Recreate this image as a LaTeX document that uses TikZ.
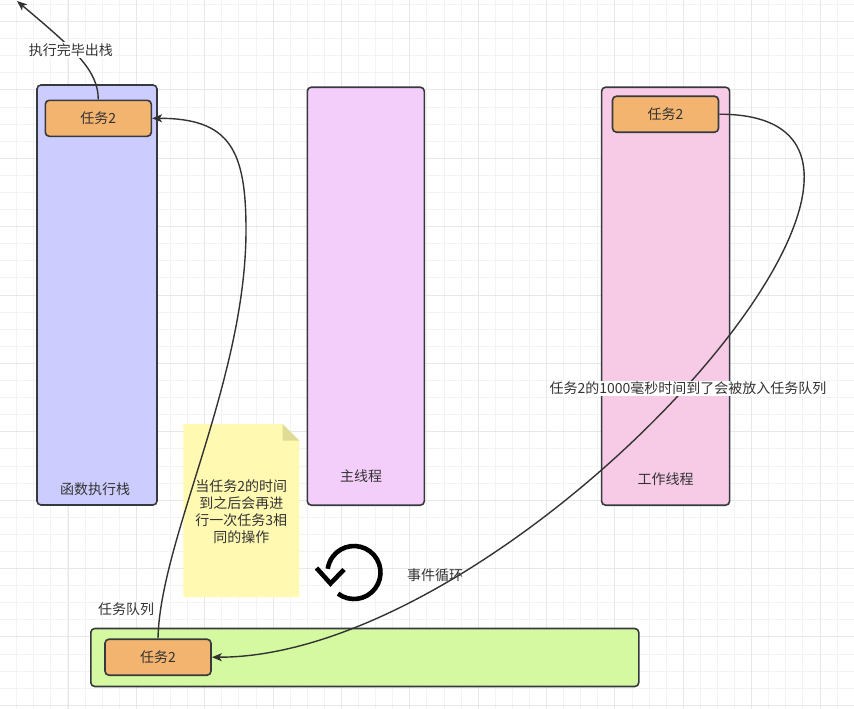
\documentclass[tikz,border=0pt]{standalone}
\usepackage{fontspec}
\setmainfont{Noto Sans CJK SC}
\usetikzlibrary{arrows.meta}
\definecolor{gridminor}{RGB}{243,243,243}
\definecolor{gridmajor}{RGB}{232,232,232}
\definecolor{bordercol}{HTML}{36393D}
\definecolor{linecol}{HTML}{333333}
\definecolor{textcol}{HTML}{333333}
\definecolor{stackfill}{HTML}{CCCCFF}
\definecolor{mainfill}{HTML}{F4CEFA}
\definecolor{workfill}{HTML}{F7CBE6}
\definecolor{taskfill}{HTML}{F3B46F}
\definecolor{queuefill}{HTML}{D5F9A0}
\definecolor{notefill}{HTML}{FFF9B2}
\definecolor{foldfill}{RGB}{222,220,150}
\tikzset{
  box/.style={draw=bordercol, line width=1.6pt, rounded corners=4pt, inner sep=0pt},
  task/.style={box, fill=taskfill, minimum width=106pt, minimum height=36pt, txt},
  txt/.style={font=\fontsize{14}{17}\selectfont, text=textcol},
  conn/.style={draw=linecol, line width=1.4pt, -{Stealth[length=10pt,width=8pt,inset=2.5pt]}},
  elabel/.style={txt, fill=white, inner sep=1pt},
}
\begin{document}
\begin{tikzpicture}[x=1pt,y=-1pt]
\useasboundingbox (0,0) rectangle (854,709);
\fill[white] (0,0) rectangle (854,709);
% grid
\foreach \k in {0,...,49} \draw[gridminor, line width=1pt] ({16.7+17.093*\k},0) -- ++(0,709);
\foreach \k in {0,...,41} \draw[gridminor, line width=1pt] (0,{4.5+17.093*\k}) -- ++(854,0);
\foreach \k in {0,...,12} \draw[gridmajor, line width=1pt] ({68.0+68.372*\k},0) -- ++(0,709);
\foreach \k in {0,...,10} \draw[gridmajor, line width=1pt] (0,{21.6+68.372*\k}) -- ++(854,0);

% columns
\node[box, fill=stackfill, minimum width=120pt, minimum height=420pt] (stack) at (97,295) {};
\node[box, fill=mainfill, minimum width=117pt, minimum height=418pt] (main) at (365.8,296.2) {};
\node[box, fill=workfill, minimum width=128pt, minimum height=418pt] (work) at (665.6,296.2) {};
\node[box, fill=queuefill, minimum width=548pt, minimum height=58pt] (queue) at (364.8,657.5) {};

\node[txt] (stacklbl) at (95,489) {函数执行栈};
\node[txt] (mainlbl) at (361,476) {主线程};
\node[txt] (worklbl) at (665.5,479) {工作线程};
\node[txt] (queuelbl) at (126,609) {任务队列};

% tasks
\node[task] (s2) at (98.3,118.3) {任务2};
\node[task] (w2) at (665.5,114.2) {任务2};
\node[task] (q2) at (158,657.2) {任务2};

% note
\fill[notefill] (183.3,424) -- (282.7,424) -- (299.3,440.6) -- (299.3,597) -- (183.3,597) -- cycle;
\fill[foldfill] (282.7,424) -- (299.3,440.6) -- (282.7,440.6) -- cycle;
\node[txt, align=center] (notetxt) at (241.3,511.5) {当任务2的时间\\到之后会再进\\行一次任务3相\\同的操作};

% loop icon
\draw[black, line width=4.6pt] (354,572.5) ++(127:26.5) arc[start angle=127, end angle=-172, radius=26.5];
\draw[black, line width=4.6pt, line join=miter] (316.5,568) -- (330.5,583.5) -- (344,569.5);
\node[txt] (looplbl) at (435,575) {事件循环};

% connectors
\coordinate (outtop) at (17,1);
\draw[conn] (s2.north) .. controls (98,70) and (75,50) .. (outtop);
\node[elabel] (poplbl) at (70.8,50) {执行完毕出栈};

\draw[conn] (q2.north) .. controls (160,540) and (246,380) .. (246,230)
  .. controls (246,150) and (230,118.3) .. (s2.east);

\draw[conn] (w2.east) .. controls (1000,114.2) and (520,657.2) .. (q2.east);
\node[elabel] (movelbl) at (688,388.3) {任务2的1000毫秒时间到了会被放入任务队列};
\end{tikzpicture}
\end{document}
